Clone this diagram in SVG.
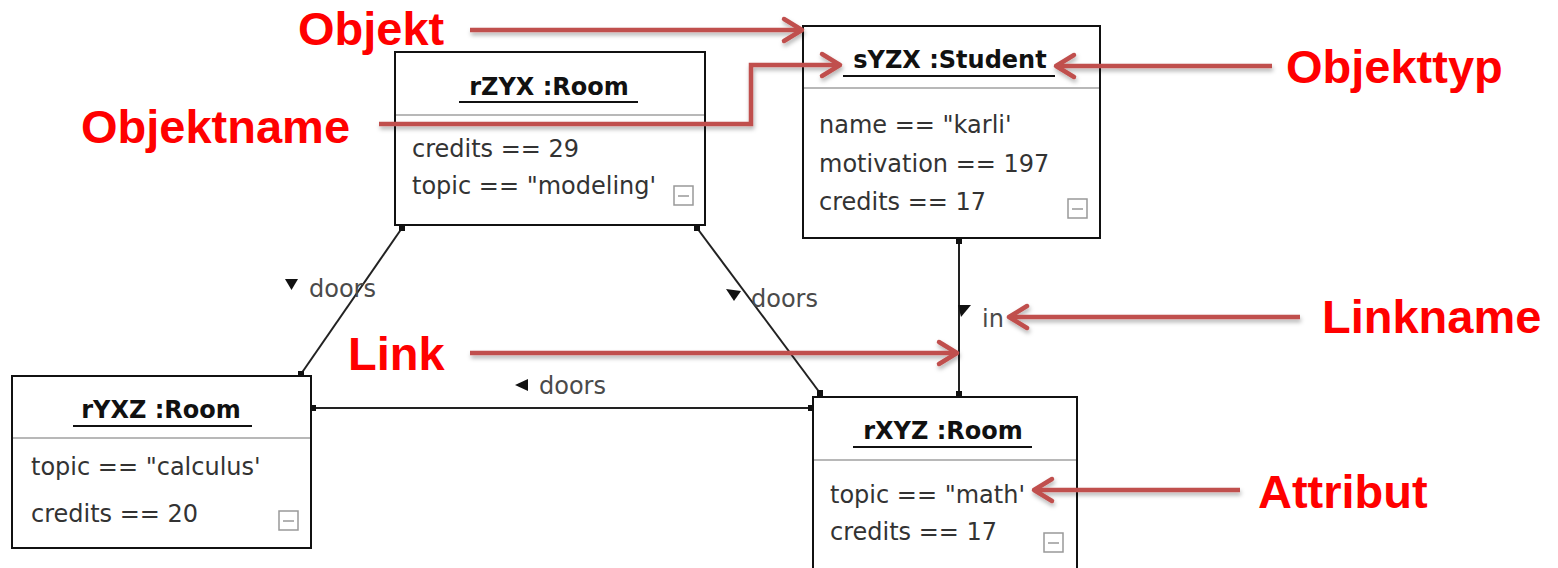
<svg xmlns="http://www.w3.org/2000/svg" width="1558" height="568" viewBox="0 0 1558 568">
<style>
.box{fill:#fff;stroke:#111;stroke-width:2}
.sep{stroke:#a0a0a0;stroke-width:1.5}
.title{font-family:"DejaVu Sans",sans-serif;font-weight:bold;font-size:24px;fill:#111;text-anchor:middle}
.ul{stroke:#111;stroke-width:2}
.attr{font-family:"DejaVu Sans",sans-serif;font-size:24px;fill:#333}
.mini{fill:#fff;stroke:#999;stroke-width:1.5}
.minl{stroke:#999;stroke-width:1.5}
.conn{stroke:#222;stroke-width:2;fill:none}
.end{fill:#111}
.lbl{font-family:"DejaVu Sans",sans-serif;font-size:24px;fill:#4a4a4a}
.tri{fill:#111}
.ann{font-family:"Liberation Sans",Arial,sans-serif;font-weight:bold;font-size:47px;fill:#ff0000}
.arr{stroke:#c0504d;stroke-width:4.5;fill:none;stroke-linejoin:miter;marker-end:url(#chev)}
</style>
<defs>
<marker id="chev" markerUnits="userSpaceOnUse" markerWidth="30" markerHeight="30" viewBox="-24 -15 28 30" refX="0" refY="0" orient="auto">
<path d="M-18,-11 L0,0 L-18,11" fill="none" stroke="#c0504d" stroke-width="4.5" stroke-linecap="round" stroke-linejoin="round"/>
</marker>
<filter id="sh" x="-10%" y="-50%" width="120%" height="200%">
<feDropShadow dx="1" dy="3" stdDeviation="2" flood-color="#000" flood-opacity="0.3"/>
</filter>
</defs>
<rect width="1558" height="568" fill="#fff"/>

<g id="connectors">
<line class="conn" x1="402" y1="228" x2="301" y2="374"/>
<rect class="end" x="399" y="225" width="6" height="6"/>
<rect class="end" x="298" y="371" width="6" height="6"/>
<line class="conn" x1="697" y1="228" x2="820" y2="393"/>
<rect class="end" x="694" y="225" width="6" height="6"/>
<rect class="end" x="817" y="390" width="6" height="6"/>
<line class="conn" x1="312" y1="408" x2="812" y2="408"/>
<rect class="end" x="310" y="405" width="6" height="6"/>
<rect class="end" x="808" y="405" width="6" height="6"/>
<line class="conn" x1="959" y1="240" x2="959" y2="396"/>
<rect class="end" x="956" y="238" width="6" height="6"/>
<rect class="end" x="956" y="391" width="6" height="6"/>
<g id="label-doors-1">
<polygon class="tri" points="285,279 298,279 291.5,290"/>
<text class="lbl" x="309" y="297">doors</text>
</g>
<g id="label-doors-2">
<polygon class="tri" points="726,289 741,291 734,301"/>
<text class="lbl" x="751" y="307">doors</text>
</g>
<g id="label-doors-3">
<polygon class="tri" points="528,379 528,391 515,385"/>
<text class="lbl" x="539" y="394">doors</text>
</g>
<g id="label-in">
<polygon class="tri" points="958,305 971,305 961,317"/>
<text class="lbl" x="982" y="327">in</text>
</g>
</g>

<g id="node-rZYX">
<rect class="box" x="395" y="52" width="310" height="173"/>
<line class="sep" x1="396" y1="115" x2="704" y2="115"/>
<text class="title" x="549" y="95">rZYX :Room</text>
<line class="ul" x1="459" y1="102" x2="638" y2="102"/>
<text class="attr" x="412" y="157">credits == 29</text>
<text class="attr" x="412" y="194">topic == "modeling'</text>
<rect class="mini" x="674" y="186" width="19" height="19"/>
<line class="minl" x1="678" y1="196" x2="689" y2="196"/>
</g>

<g id="node-sYZX">
<rect class="box" x="803" y="26" width="297" height="212"/>
<line class="sep" x1="804" y1="88" x2="1099" y2="88"/>
<text class="title" x="950" y="68">sYZX :Student</text>
<line class="ul" x1="843" y1="76" x2="1055" y2="76"/>
<text class="attr" x="819" y="133">name == "karli'</text>
<text class="attr" x="819" y="172">motivation == 197</text>
<text class="attr" x="819" y="210">credits == 17</text>
<rect class="mini" x="1068" y="199" width="19" height="19"/>
<line class="minl" x1="1072" y1="209" x2="1083" y2="209"/>
</g>

<g id="node-rYXZ">
<rect class="box" x="12" y="376" width="299" height="172"/>
<line class="sep" x1="13" y1="438" x2="310" y2="438"/>
<text class="title" x="161" y="418">rYXZ :Room</text>
<line class="ul" x1="73" y1="426" x2="252" y2="426"/>
<text class="attr" x="31" y="475">topic == "calculus'</text>
<text class="attr" x="31" y="522">credits == 20</text>
<rect class="mini" x="279" y="511" width="19" height="19"/>
<line class="minl" x1="283" y1="521" x2="294" y2="521"/>
</g>

<g id="node-rXYZ">
<rect class="box" x="813" y="397" width="264" height="200"/>
<line class="sep" x1="814" y1="460" x2="1076" y2="460"/>
<text class="title" x="943" y="439">rXYZ :Room</text>
<line class="ul" x1="853" y1="447" x2="1032" y2="447"/>
<text class="attr" x="830" y="503">topic == "math'</text>
<text class="attr" x="830" y="540">credits == 17</text>
<rect class="mini" x="1044" y="533" width="19" height="19"/>
<line class="minl" x1="1048" y1="543" x2="1059" y2="543"/>
</g>

<g id="annotations">
<g filter="url(#sh)">
<path class="arr" d="M470,30 L802,30"/>
<path class="arr" d="M379,124 L751,124 L751,65 L840,65"/>
<path class="arr" d="M1272,66 L1056,66"/>
<path class="arr" d="M1300,317 L1009,317"/>
<path class="arr" d="M470,353 L957,353"/>
<path class="arr" d="M1240,490 L1034,490"/>
</g>
<g id="ann-objekt"><text class="ann" x="298" y="45">Objekt</text></g>
<g id="ann-objektname"><text class="ann" x="81" y="143">Objektname</text></g>
<g id="ann-objekttyp"><text class="ann" x="1286" y="83">Objekttyp</text></g>
<g id="ann-linkname"><text class="ann" x="1322" y="333">Linkname</text></g>
<g id="ann-link"><text class="ann" x="348" y="370">Link</text></g>
<g id="ann-attribut"><text class="ann" x="1258" y="508">Attribut</text></g>
</g>
</svg>
